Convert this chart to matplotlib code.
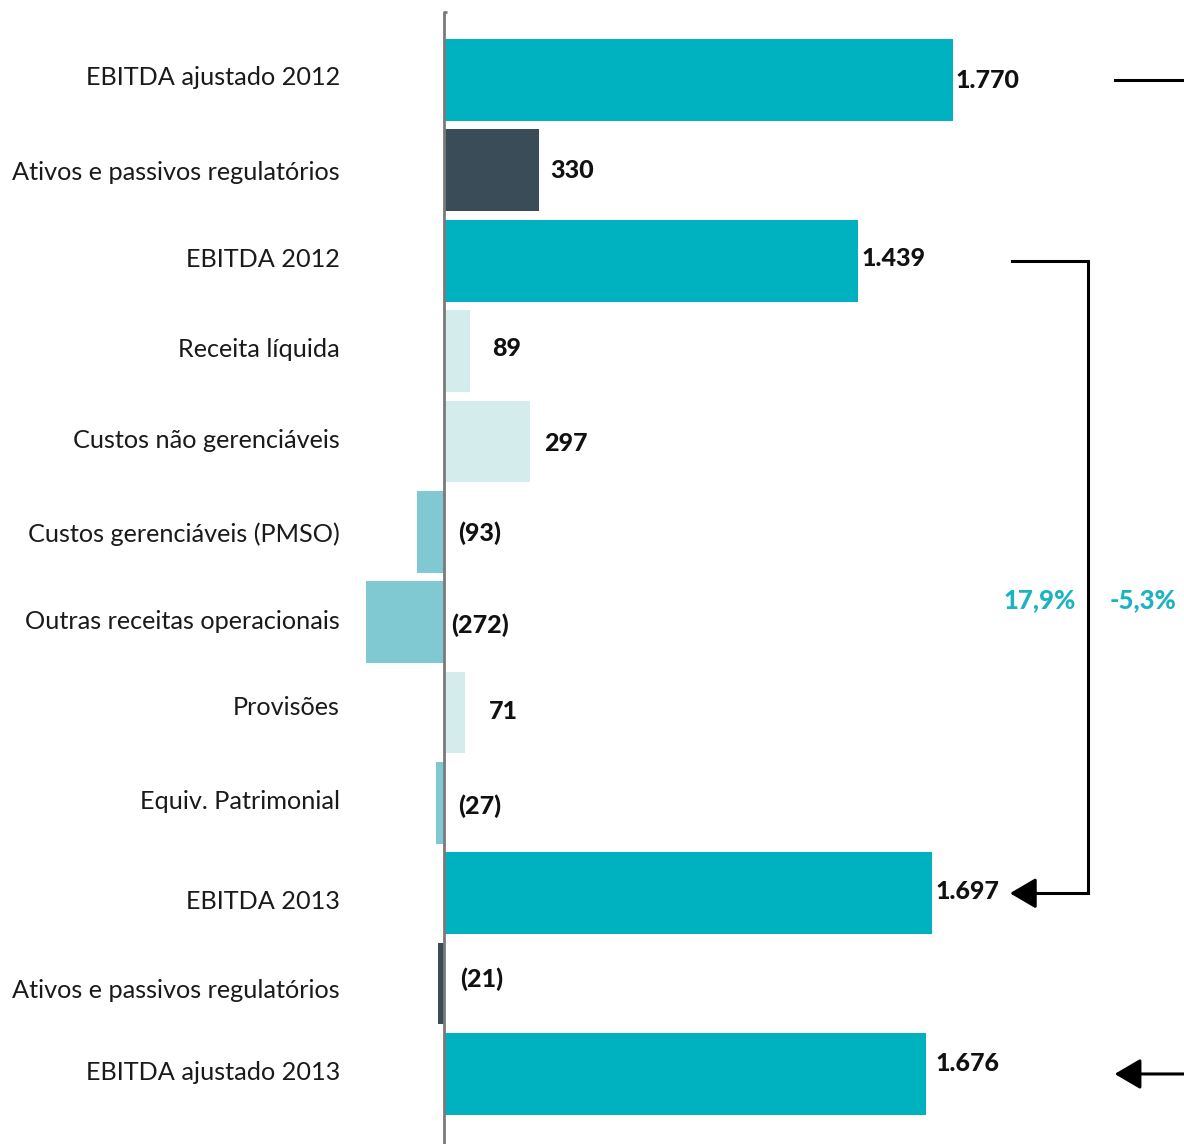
import matplotlib.pyplot as plt
from matplotlib.transforms import ScaledTranslation

categorias = ['EBITDA ajustado 2012', 'Ativos e passivos regulatórios', 'EBITDA 2012',
              'Receita líquida', 'Custos não gerenciáveis', 'Custos gerenciáveis (PMSO)',
              'Outras receitas operacionais', 'Provisões', 'Equiv. Patrimonial',
              'EBITDA 2013', 'Ativos e passivos regulatórios', 'EBITDA ajustado 2013']
valores = [1770, 330, 1439, 89, 297, -93, -272, 71, -27, 1697, -21, 1676]
rotulos = ['1.770', '330', '1.439', '89', '297', '(93)', '(272)', '71', '(27)',
           '1.697', '(21)', '1.676']
tipo = ['total', 'reg', 'total', 'pos', 'pos', 'neg', 'neg', 'pos', 'neg', 'total', 'reg', 'total']
variacoes = ['17,9%', '-5,3%']

cores = {'total': '#00B2BF', 'reg': '#3A4C57', 'pos': '#D4ECEC', 'neg': '#80C9D3'}
teal = '#1BB3C2'

# deslocamentos dos rotulos (px): dx a partir do fim da barra, dy para baixo
dx = [2, 11, 3, 22, 15, 14, 7, 24, 14, 3, 16, 9]
dy = [1, 0, -2, -3, 2, 1, 3, -1, 3, -2, -4, -10]
cat_dy = [-4, 0, -3, -4, -3, 0, -3, -7, -3, 6, 5, -3]

plt.rcParams['font.family'] = ['Lato', 'DejaVu Sans']

fig = plt.figure(figsize=(11.84, 11.44), dpi=100)
ax = fig.add_axes([355 / 1184, 0, 829 / 1184, 1])

y = list(range(len(valores)))
ax.barh(y, valores, height=0.905, color=[cores[t] for t in tipo], zorder=2)

ax.set_xlim(-310, 2572)
ax.set_ylim(11.775, -0.885)

# eixo vertical em zero
ax.plot([10, 0, 0], [-0.752, -0.752, 11.775], color='#7A7A7A', lw=2, zorder=3,
        solid_capstyle='butt', clip_on=False)

for i, (v, r) in enumerate(zip(valores, rotulos)):
    ax.annotate(r, xy=(max(v, 0), i), xytext=(dx[i] * 0.72, -dy[i] * 0.72),
                textcoords='offset points', ha='left', va='center',
                fontsize=18, fontweight='black', color='#111111')

ax.set_yticks(y)
ax.set_yticklabels(categorias, fontsize=18.2, color='#1a1a1a')
ax.tick_params(axis='y', length=0, pad=10.8)
for lab, d in zip(ax.get_yticklabels(), cat_dy):
    lab.set_transform(lab.get_transform() + ScaledTranslation(0, -d / 100, fig.dpi_scale_trans))
ax.set_xticks([])
for s in ax.spines.values():
    s.set_visible(False)

# colchete EBITDA 2012 -> EBITDA 2013
ax.plot([1973, 2238, 2238, 2040], [2, 2, 9, 9], color='black', lw=2.2,
        solid_joinstyle='miter')
ax.annotate('', xy=(1967, 9), xytext=(2060, 9),
            arrowprops=dict(arrowstyle='-|>,head_length=0.8,head_width=0.47',
                            mutation_scale=20, lw=2.2, color='black',
                            shrinkA=0, shrinkB=0))

# linhas do ajustado
ax.plot([2331, 2572], [0, 0], color='black', lw=2.2, clip_on=False)
ax.annotate('', xy=(2331, 11), xytext=(2572, 11),
            arrowprops=dict(arrowstyle='-|>,head_length=0.8,head_width=0.47',
                            mutation_scale=20, lw=2.2, color='black',
                            shrinkA=0, shrinkB=0))

ax.text(2071, 5.755, variacoes[0], ha='center', va='center', fontsize=18.5,
        fontweight='black', color=teal)
ax.text(2429, 5.755, variacoes[1], ha='center', va='center', fontsize=18.5,
        fontweight='black', color=teal)

fig.savefig('out.png', dpi=100)
